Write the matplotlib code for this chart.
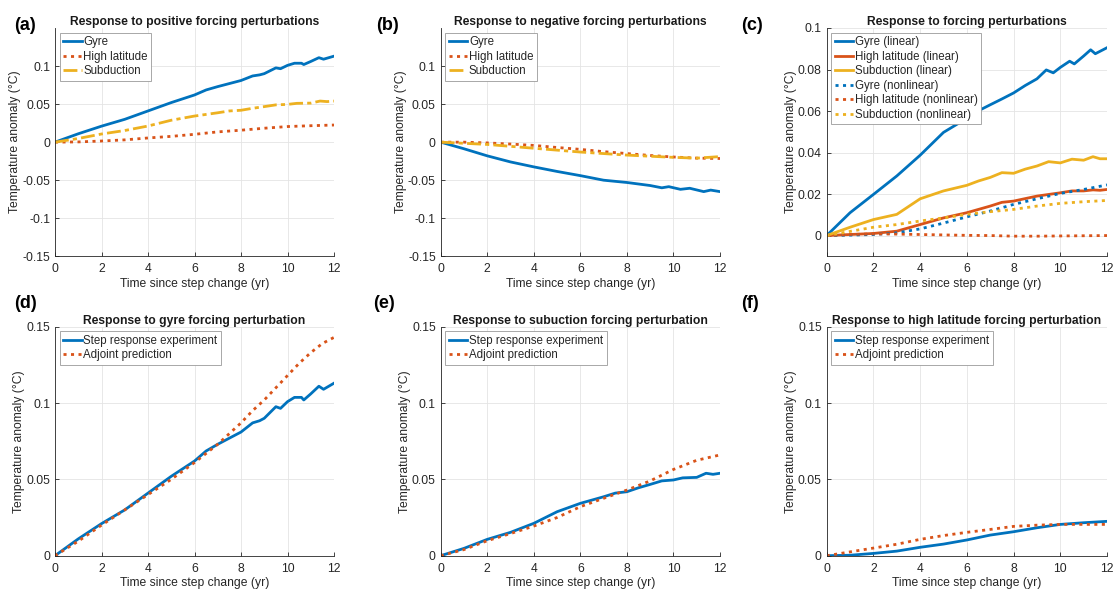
import matplotlib
matplotlib.use("Agg")
import matplotlib.pyplot as plt

# panel (a)/(b): step responses for positive and negative forcing
t_gyre_pos = [0, 1, 2, 3, 4, 5, 6, 6.5, 7, 7.7, 8, 8.5, 8.8, 9, 9.5, 9.7, 10, 10.3, 10.6, 10.7, 11, 11.35, 11.55, 12]
gyre_pos = [0, 0.011, 0.021, 0.030, 0.041, 0.052, 0.062, 0.0686, 0.073, 0.0786, 0.081, 0.087, 0.0884, 0.090,
            0.0976, 0.0965, 0.1009, 0.1037, 0.1037, 0.102, 0.106, 0.111, 0.109, 0.113]
t_hl_pos = [0, 1, 2, 3, 4, 5, 6, 7, 8, 9, 10, 11, 12]
hl_pos = [0, 0.0003, 0.0015, 0.003, 0.0055, 0.0076, 0.0103, 0.0135, 0.0157, 0.0183, 0.0205, 0.0216, 0.0225]
t_sub_pos = [0, 1, 2, 3, 4, 5, 6, 7, 7.5, 8, 8.5, 9, 9.5, 10, 10.4, 11, 11.4, 11.7, 12]
sub_pos = [0, 0.0048, 0.0107, 0.0153, 0.0212, 0.0288, 0.0343, 0.0386, 0.041, 0.0419, 0.0445, 0.0467, 0.049,
           0.0496, 0.051, 0.0513, 0.054, 0.0533, 0.054]

t_gyre_neg = [0, 1, 2, 3, 4, 5, 6, 7, 8, 9, 9.5, 9.8, 10.3, 10.7, 11.3, 11.6, 12]
gyre_neg = [0, -0.0087, -0.018, -0.026, -0.0325, -0.0385, -0.044, -0.050, -0.053, -0.057, -0.060, -0.0585,
            -0.062, -0.0606, -0.065, -0.063, -0.065]
t_neg = [0, 1, 2, 3, 4, 5, 6, 7, 8, 9, 10, 11, 12]
hl_neg = [0, 0, -0.001, -0.0025, -0.0043, -0.007, -0.0095, -0.0125, -0.015, -0.0175, -0.0195, -0.021, -0.0215]
sub_neg = [0, -0.0015, -0.003, -0.0055, -0.008, -0.0105, -0.013, -0.015, -0.017, -0.0185, -0.020, -0.021, -0.019]

# panel (c): linear / nonlinear parts
t_gyre_lin = [0, 1, 2, 3, 4, 5, 6, 6.3, 7, 7.5, 8, 8.5, 9, 9.4, 9.7, 10, 10.4, 10.6, 11, 11.3, 11.5, 12]
gyre_lin = [0, 0.011, 0.0198, 0.0287, 0.0387, 0.0497, 0.0565, 0.059, 0.063, 0.0658, 0.0687, 0.0723, 0.0755,
            0.0798, 0.0784, 0.081, 0.084, 0.0827, 0.0865, 0.0895, 0.0876, 0.0905]
t_hl_lin = [0, 1, 2, 3, 4, 5, 6, 7, 7.5, 8, 9, 10, 10.5, 11, 11.4, 11.7, 12]
hl_lin = [0, 0.0005, 0.001, 0.0021, 0.0053, 0.0085, 0.011, 0.0142, 0.016, 0.0166, 0.019, 0.0206, 0.0215,
          0.0215, 0.022, 0.0218, 0.0222]
t_sub_lin = [0, 1, 2, 3, 4, 5, 6, 6.5, 7, 7.5, 8, 8.5, 9, 9.5, 10, 10.5, 11, 11.4, 11.7, 12]
sub_lin = [0, 0.004, 0.0077, 0.0102, 0.0177, 0.0215, 0.0242, 0.0263, 0.028, 0.0303, 0.030, 0.032, 0.0335,
           0.0356, 0.035, 0.0368, 0.0363, 0.038, 0.037, 0.037]
t_nl = [0, 1, 2, 3, 4, 5, 6, 7, 8, 9, 10, 11, 12]
gyre_nl = [0, 0.0002, 0.0005, 0.0013, 0.0032, 0.006, 0.009, 0.0118, 0.015, 0.0177, 0.0203, 0.0222, 0.0244]
hl_nl = [0, 0.0005, 0.0008, 0.0007, 0.0005, 0.0003, 0.0001, 0, -0.0003, -0.0003, -0.0002, -0.0001, 0]
sub_nl = [0, 0.002, 0.004, 0.0053, 0.007, 0.0085, 0.0102, 0.0115, 0.0126, 0.0142, 0.0155, 0.0163, 0.0169]

# panels (d)-(f): adjoint predictions
t_adj = [0, 1, 2, 3, 4, 5, 6, 6.5, 7, 7.5, 8, 8.5, 9, 9.5, 10, 10.5, 11, 11.5, 12]
gyre_adj = [0, 0.0095, 0.020, 0.030, 0.040, 0.050, 0.061, 0.067, 0.073, 0.080, 0.087, 0.095, 0.102, 0.110,
            0.118, 0.126, 0.133, 0.139, 0.143]
t_adj2 = [0, 1, 2, 3, 4, 5, 6, 7, 8, 9, 10, 11, 12]
sub_adj = [0, 0.004, 0.0098, 0.0145, 0.0194, 0.025, 0.0321, 0.0376, 0.043, 0.049, 0.0565, 0.0625, 0.066]
hl_adj = [0, 0.0025, 0.005, 0.0075, 0.0107, 0.0132, 0.0153, 0.0172, 0.0192, 0.020, 0.0205, 0.0205, 0.0205]

x_ticks = [0, 2, 4, 6, 8, 10, 12]
BLUE, RED, YEL = '#0072BD', '#D95319', '#EDB120'
DOT = (0, (1.1, 1.6))
DASHDOT = (0, (5, 1.5, 1.5, 1.5))
TXT = '#262626'
FS = 8.7
LEG_FS = 8.3

plt.rcParams['font.family'] = ['Liberation Sans', 'DejaVu Sans']
plt.rcParams['font.size'] = FS

fig = plt.figure(figsize=(11.14, 5.89), dpi=100)

W, H = 1114, 589


def make_ax(left, top, right, bottom):
    ax = fig.add_axes([left / W, 1 - bottom / H, (right - left) / W, (bottom - top) / H])
    for s in ['top', 'right']:
        ax.spines[s].set_visible(False)
    for s in ['left', 'bottom']:
        ax.spines[s].set_color(TXT)
        ax.spines[s].set_linewidth(0.6)
    ax.tick_params(direction='in', length=3, width=0.6, colors=TXT, labelsize=FS)
    ax.tick_params(axis='x', pad=5)
    ax.tick_params(axis='y', pad=3.5)
    ax.grid(True, color='#e4e4e4', linewidth=0.6)
    ax.set_axisbelow(True)
    ax.set_xlim(0, 12)
    ax.set_xticks(x_ticks)
    ax.set_xticklabels([str(v) for v in x_ticks])
    ax.set_xlabel('Time since step change (yr)', color=TXT, labelpad=2)
    ax.set_ylabel('Temperature anomaly (°C)', color=TXT, labelpad=1)
    return ax


def legend(ax):
    leg = ax.legend(loc='upper left', fontsize=LEG_FS, handlelength=1.6, handletextpad=0.15,
                    labelspacing=0.22, borderpad=0.3, borderaxespad=0.4, frameon=True, fancybox=False)
    leg.get_frame().set_edgecolor('#9a9a9a')
    leg.get_frame().set_linewidth(0.6)
    leg.get_frame().set_alpha(1)
    for txt in leg.get_texts():
        txt.set_color(TXT)


def fmt(vals):
    return ['0' if v == 0 else ('%g' % v) for v in vals]


def title(ax, s):
    ax.set_title(s, fontweight='bold', fontsize=FS, color='#1a1a1a', pad=2)


top_y = [-0.15, -0.1, -0.05, 0, 0.05, 0.1]
c_y = [0, 0.02, 0.04, 0.06, 0.08, 0.1]
bot_y = [0, 0.05, 0.1, 0.15]
lw = 2

# (a)
ax = make_ax(55, 28, 334, 256.3)
ax.plot(t_gyre_pos, gyre_pos, color=BLUE, lw=lw, label='Gyre')
ax.plot(t_hl_pos, hl_pos, color=RED, lw=lw, ls=DOT, label='High latitude')
ax.plot(t_sub_pos, sub_pos, color=YEL, lw=lw, ls=DASHDOT, label='Subduction')
ax.set_ylim(-0.15, 0.15)
ax.set_yticks(top_y)
ax.set_yticklabels(fmt(top_y))
title(ax, 'Response to positive forcing perturbations')
legend(ax)

# (b)
ax = make_ax(440.7, 28, 720, 256.3)
ax.plot(t_gyre_neg, gyre_neg, color=BLUE, lw=lw, label='Gyre')
ax.plot(t_neg, hl_neg, color=RED, lw=lw, ls=DOT, label='High latitude')
ax.plot(t_neg, sub_neg, color=YEL, lw=lw, ls=DASHDOT, label='Subduction')
ax.set_ylim(-0.15, 0.15)
ax.set_yticks(top_y)
ax.set_yticklabels(fmt(top_y))
title(ax, 'Response to negative forcing perturbations')
legend(ax)

# (c)
ax = make_ax(826.7, 28, 1107, 256.3)
ax.plot(t_gyre_lin, gyre_lin, color=BLUE, lw=lw, label='Gyre (linear)')
ax.plot(t_hl_lin, hl_lin, color=RED, lw=lw, label='High latitude (linear)')
ax.plot(t_sub_lin, sub_lin, color=YEL, lw=lw, label='Subduction (linear)')
ax.plot(t_nl, gyre_nl, color=BLUE, lw=lw, ls=DOT, label='Gyre (nonlinear)')
ax.plot(t_nl, hl_nl, color=RED, lw=lw, ls=DOT, label='High latitude (nonlinear)')
ax.plot(t_nl, sub_nl, color=YEL, lw=lw, ls=DOT, label='Subduction (nonlinear)')
ax.set_ylim(-0.01, 0.1)
ax.set_yticks(c_y)
ax.set_yticklabels(fmt(c_y))
title(ax, 'Response to forcing perturbations')
legend(ax)

# (d)
ax = make_ax(55, 326.7, 334, 555.7)
ax.plot(t_gyre_pos, gyre_pos, color=BLUE, lw=lw, label='Step response experiment')
ax.plot(t_adj, gyre_adj, color=RED, lw=lw, ls=DOT, label='Adjoint prediction')
ax.set_ylim(0, 0.15)
ax.set_yticks(bot_y)
ax.set_yticklabels(fmt(bot_y))
title(ax, 'Response to gyre forcing perturbation')
legend(ax)

# (e)
ax = make_ax(440.7, 326.7, 720, 555.7)
ax.plot(t_sub_pos, sub_pos, color=BLUE, lw=lw, label='Step response experiment')
ax.plot(t_adj2, sub_adj, color=RED, lw=lw, ls=DOT, label='Adjoint prediction')
ax.set_ylim(0, 0.15)
ax.set_yticks(bot_y)
ax.set_yticklabels(fmt(bot_y))
title(ax, 'Response to subuction forcing perturbation')
legend(ax)

# (f)
ax = make_ax(826.7, 326.7, 1107, 555.7)
ax.plot(t_hl_pos, hl_pos, color=BLUE, lw=lw, label='Step response experiment')
ax.plot(t_adj2, hl_adj, color=RED, lw=lw, ls=DOT, label='Adjoint prediction')
ax.set_ylim(0, 0.15)
ax.set_yticks(bot_y)
ax.set_yticklabels(fmt(bot_y))
title(ax, 'Response to high latitude forcing perturbation')
legend(ax)

# panel letters
for lab, x, y in [('(a)', 14, 25), ('(b)', 376, 25), ('(c)', 741, 25),
                  ('(d)', 14, 303), ('(e)', 373, 303), ('(f)', 741, 303)]:
    fig.text(x / W, 1 - y / H, lab, fontsize=13, fontweight='bold', va='center', ha='left', color='black')

fig.savefig('out.png', dpi=100)
